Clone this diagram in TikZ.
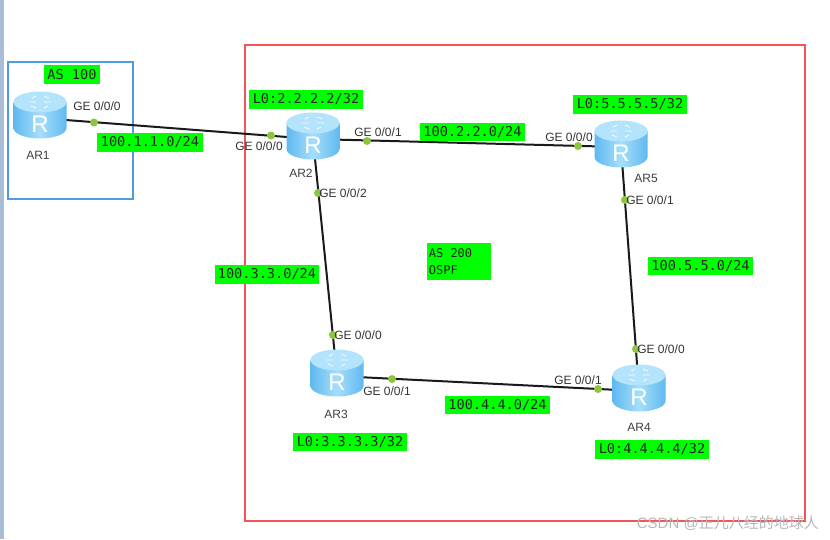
\documentclass[tikz,border=0pt]{standalone}
\usepackage{fontspec}
\setmainfont{Liberation Sans}
\newfontfamily\monof{DejaVu Sans Mono}
\newfontfamily\cjkf{Noto Sans CJK SC}
\definecolor{lime}{HTML}{00FF00}
\definecolor{dotg}{HTML}{8CC63F}
\definecolor{rtop}{HTML}{B4E4FB}
\definecolor{rmid}{HTML}{A6DEFA}
\definecolor{rdark}{HTML}{5FB9F0}
\definecolor{strip}{HTML}{A9BDD6}
\definecolor{boxblue}{HTML}{4F9BE8}
\definecolor{boxred}{HTML}{F5555A}
\tikzset{
  x=1pt,y=-1pt,
  hub/.style={inner sep=0pt,minimum width=54pt,minimum height=48pt},
  link/.style={line width=2pt,black!90},
  port/.style={circle,fill=dotg,inner sep=0pt,minimum size=8pt},
  portlabel/.style={font=\fontsize{12}{12}\selectfont,text=black!80,inner sep=0pt},
  hubname/.style={font=\fontsize{12}{12}\selectfont,text=black!75,inner sep=0pt},
  tag/.style={fill=lime,inner sep=0pt,font=\monof\fontsize{13.6}{16}\selectfont,text=black!85,align=left},
  watermark/.style={font=\fontsize{15}{15}\selectfont,text=black!28,inner sep=0pt,anchor=east}
}
\newcommand{\hubart}[1]{%
  \begin{scope}[shift={(#1)},yshift=3pt]
    \shade[left color=rdark,right color=rdark,middle color=rmid] (-26.5,-13) -- (-26.5,13) arc[x radius=26.5,y radius=10.5,start angle=180,end angle=0] -- (26.5,-13) -- cycle;
    \fill[rtop] (0,-13) ellipse[x radius=26.5,y radius=10.5];
    \draw[white,line width=.9pt,opacity=.85] (-11,-13) -- (-4,-13) (4,-13) -- (11,-13) (-4,-19) -- (-8,-17) (4,-7) -- (8,-9) (4,-19) -- (9,-17) (-4,-7) -- (-9,-9);
    \node[inner sep=0pt,text=white,font=\fontsize{24}{24}\selectfont] at (0,9) {R};
  \end{scope}}
\begin{document}
\begin{tikzpicture}
\useasboundingbox (0,0) rectangle (830,539);
\fill[white] (0,0) rectangle (830,539);
\fill[strip] (0,0) rectangle (4,539);
\draw[draw=boxblue,line width=1.1pt] (8,62) rectangle (133,199);
\draw[draw=boxred,line width=1.1pt] (245,45) rectangle (805,521);

\node[hub] (ar1) at (40,118) {};
\node[hub] (ar2) at (313,139) {};
\node[hub] (ar3) at (337,376) {};
\node[hub] (ar4) at (639,391) {};
\node[hub] (ar5) at (621,147) {};

\draw[link] (ar1.center) -- (ar2.center);
\draw[link] (ar2.center) -- (ar5.center);
\draw[link] (ar2.center) -- (ar3.center);
\draw[link] (ar3.center) -- (ar4.center);
\draw[link] (ar5.center) -- (ar4.center);

\hubart{ar1}\hubart{ar2}\hubart{ar3}\hubart{ar4}\hubart{ar5}

\node[port] (p1) at (94,122.5) {};
\node[port] (p2) at (271,135.5) {};
\node[port] (p3) at (367,141) {};
\node[port] (p4) at (578,146) {};
\node[port] (p5) at (318,193) {};
\node[port] (p6) at (333,335) {};
\node[port] (p7) at (392,379) {};
\node[port] (p8) at (598,389) {};
\node[port] (p9) at (625,200) {};
\node[port] (p10) at (636,349) {};

\node[portlabel] (l1) at (97,106) {GE 0/0/0};
\node[portlabel] (l2) at (259,146) {GE 0/0/0};
\node[portlabel] (l3) at (378,132) {GE 0/0/1};
\node[portlabel] (l4) at (569,137) {GE 0/0/0};
\node[portlabel] (l5) at (343,193) {GE 0/0/2};
\node[portlabel] (l6) at (358,335) {GE 0/0/0};
\node[portlabel] (l7) at (387,391) {GE 0/0/1};
\node[portlabel] (l8) at (578,380) {GE 0/0/1};
\node[portlabel] (l9) at (650,200) {GE 0/0/1};
\node[portlabel] (l10) at (661,349) {GE 0/0/0};

\node[hubname] (n1) at (38,155) {AR1};
\node[hubname] (n2) at (301,173) {AR2};
\node[hubname] (n3) at (336,414) {AR3};
\node[hubname] (n4) at (639,427) {AR4};
\node[hubname] (n5) at (646,178) {AR5};

\node[tag,minimum width=56pt,minimum height=19pt] (t1) at (72,74.5) {AS 100};
\node[tag,minimum width=106pt,minimum height=19pt] (t2) at (150,142.5) {100.1.1.0/24};
\node[tag,minimum width=114pt,minimum height=19pt] (t3) at (306,99.5) {L0:2.2.2.2/32};
\node[tag,minimum width=105pt,minimum height=18pt] (t4) at (472.5,132) {100.2.2.0/24};
\node[tag,minimum width=114pt,minimum height=19pt] (t5) at (630,104.5) {L0:5.5.5.5/32};
\node[tag,minimum width=104pt,minimum height=19pt] (t6) at (267,274.5) {100.3.3.0/24};
\node[tag,minimum width=64pt,minimum height=37pt,font=\monof\fontsize{12}{17}\selectfont] (t7) at (459,261.5) {AS 200\hspace*{17pt}\\OSPF};
\node[tag,minimum width=105pt,minimum height=18pt] (t8) at (700.5,266) {100.5.5.0/24};
\node[tag,minimum width=105pt,minimum height=18pt] (t9) at (497.5,405) {100.4.4.0/24};
\node[tag,minimum width=114pt,minimum height=18pt] (t10) at (350,442) {L0:3.3.3.3/32};
\node[tag,minimum width=114pt,minimum height=19pt] (t11) at (652,449.5) {L0:4.4.4.4/32};

\node[watermark] (wm) at (819,523) {CSDN @{\cjkf 正儿八经的地球人}};
\end{tikzpicture}
\end{document}
